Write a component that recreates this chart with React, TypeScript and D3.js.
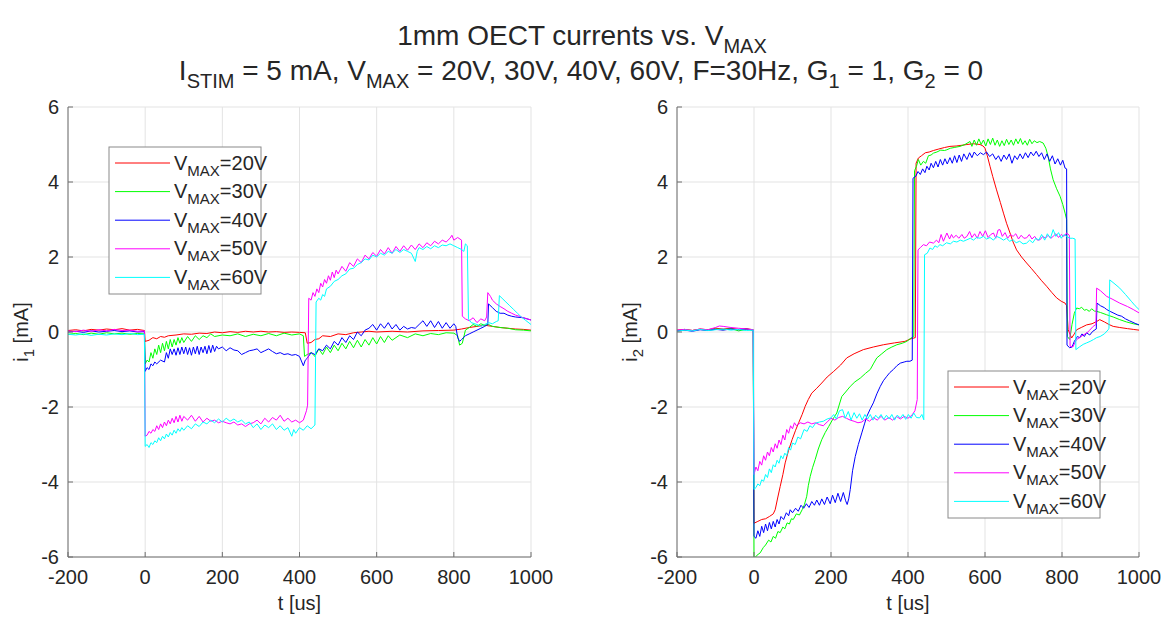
import React from "react";
import * as d3 from "d3";

type Pt = [number, number];

const T_TICKS = [-200, 0, 200, 400, 600, 800, 1000];
const I_TICKS = [-6, -4, -2, 0, 2, 4, 6];
const LEGEND_LABELS = ["=20V", "=30V", "=40V", "=50V", "=60V"];
const COLORS = ["#ff0000", "#00ff00", "#0000ff", "#ff00ff", "#00ffff"];

// ---- Left panel: i1 ----
const I1_20V: Pt[] = [[-200,0.04],[-180,0.06],[-160,0.03],[-140,0.07],[-120,0.05],[-100,0.08],[-80,0.06],[-60,0.09],[-40,0.05],[-20,0.07],[-2,0.04],[0,-0.25],[10,-0.22],[20,-0.15],[30,-0.18],[40,-0.12],[50,-0.14],[60,-0.1],[80,-0.08],[100,-0.05],[120,-0.06],[140,-0.03],[160,-0.04],[180,0.0],[200,-0.02],[220,0.01],[240,-0.01],[260,0.02],[280,0.0],[300,0.02],[320,0.0],[340,0.01],[360,-0.01],[380,0.0],[400,-0.01],[415,-0.02],[420,-0.3],[430,-0.28],[440,-0.2],[450,-0.18],[460,-0.1],[480,-0.12],[500,-0.05],[520,-0.07],[540,-0.02],[560,0.0],[580,0.02],[600,0.0],[640,0.02],[680,0.0],[720,0.03],[760,0.04],[800,0.05],[820,0.08],[840,0.12],[860,0.15],[880,0.18],[900,0.15],[920,0.12],[940,0.1],[960,0.08],[980,0.07],[1000,0.05]];
const I1_30V: Pt[] = [[-200,-0.06],[-180,-0.04],[-160,-0.07],[-140,-0.03],[-120,-0.06],[-100,-0.02],[-80,-0.05],[-60,-0.03],[-40,-0.06],[-20,-0.04],[-2,-0.05],[0,-0.85],[5,-0.75],[10,-0.8],[15,-0.55],[20,-0.7],[25,-0.45],[30,-0.6],[35,-0.35],[40,-0.55],[45,-0.3],[50,-0.5],[55,-0.25],[60,-0.45],[65,-0.2],[70,-0.4],[75,-0.2],[80,-0.35],[85,-0.15],[90,-0.3],[95,-0.15],[100,-0.28],[110,-0.12],[120,-0.25],[130,-0.1],[140,-0.2],[150,-0.1],[160,-0.15],[170,-0.05],[180,-0.12],[200,-0.08],[220,-0.1],[240,-0.05],[260,-0.12],[280,-0.06],[300,-0.1],[320,-0.04],[340,-0.1],[360,-0.03],[380,-0.08],[400,-0.05],[410,-0.1],[413,-0.65],[420,-0.6],[430,-0.55],[440,-0.65],[450,-0.45],[460,-0.6],[470,-0.4],[480,-0.55],[490,-0.35],[500,-0.5],[510,-0.3],[520,-0.45],[530,-0.25],[540,-0.42],[550,-0.22],[560,-0.4],[570,-0.2],[580,-0.35],[590,-0.15],[600,-0.32],[610,-0.12],[620,-0.28],[630,-0.1],[640,-0.22],[660,-0.08],[680,-0.15],[700,-0.05],[720,-0.1],[740,-0.04],[760,-0.07],[780,-0.02],[800,-0.03],[810,-0.1],[815,-0.35],[822,-0.3],[830,0.05],[840,0.12],[850,0.2],[860,0.15],[870,0.22],[880,0.18],[890,0.2],[900,0.15],[920,0.12],[940,0.1],[960,0.06],[980,0.05],[1000,0.03]];
const I1_40V: Pt[] = [[-200,0.0],[-180,0.02],[-160,-0.01],[-140,0.03],[-120,0.0],[-100,0.02],[-80,0.04],[-60,0.01],[-40,0.03],[-20,0.0],[-2,0.01],[0,-1.05],[5,-0.95],[10,-1.0],[15,-0.85],[20,-0.9],[25,-0.8],[30,-0.85],[40,-0.75],[50,-0.8],[55,-0.55],[60,-0.7],[65,-0.45],[70,-0.6],[75,-0.45],[80,-0.62],[85,-0.42],[90,-0.6],[95,-0.4],[100,-0.58],[105,-0.4],[110,-0.6],[115,-0.42],[120,-0.62],[125,-0.4],[130,-0.58],[135,-0.38],[140,-0.6],[145,-0.4],[150,-0.55],[155,-0.38],[160,-0.58],[165,-0.36],[170,-0.55],[175,-0.35],[180,-0.52],[185,-0.38],[190,-0.45],[200,-0.4],[210,-0.5],[220,-0.42],[230,-0.48],[240,-0.5],[250,-0.6],[260,-0.55],[270,-0.5],[280,-0.48],[290,-0.45],[300,-0.55],[310,-0.5],[320,-0.45],[330,-0.52],[340,-0.58],[350,-0.55],[360,-0.6],[370,-0.58],[380,-0.62],[390,-0.6],[400,-0.65],[410,-0.9],[415,-0.75],[420,-0.7],[430,-0.55],[440,-0.6],[450,-0.45],[460,-0.5],[470,-0.35],[480,-0.45],[490,-0.25],[500,-0.35],[510,-0.15],[520,-0.28],[530,-0.1],[540,-0.2],[550,0.0],[560,-0.1],[570,0.05],[580,0.1],[590,0.2],[600,0.05],[610,0.22],[620,0.1],[630,0.25],[640,0.08],[650,0.2],[660,0.05],[670,0.15],[680,0.08],[690,0.12],[700,0.1],[710,0.2],[720,0.3],[730,0.15],[740,0.3],[750,0.12],[760,0.28],[770,0.1],[780,0.25],[790,0.1],[800,0.22],[805,0.15],[810,-0.15],[815,-0.25],[820,-0.2],[830,-0.1],[840,-0.05],[850,0.0],[860,0.05],[870,0.1],[880,0.15],[888,0.2],[890,0.75],[900,0.65],[910,0.55],[920,0.5],[930,0.5],[940,0.45],[950,0.42],[960,0.4],[980,0.38],[1000,0.32]];
const I1_50V: Pt[] = [[-200,0.03],[-180,0.01],[-160,0.05],[-140,0.02],[-120,0.06],[-100,0.03],[-80,0.07],[-60,0.04],[-40,0.05],[-20,0.02],[-2,0.03],[0,-2.78],[5,-2.75],[10,-2.65],[15,-2.7],[20,-2.6],[25,-2.65],[30,-2.5],[35,-2.6],[40,-2.45],[45,-2.55],[50,-2.4],[55,-2.5],[60,-2.35],[65,-2.45],[70,-2.3],[75,-2.42],[80,-2.25],[85,-2.4],[90,-2.22],[95,-2.38],[100,-2.25],[110,-2.35],[120,-2.22],[130,-2.38],[140,-2.25],[150,-2.4],[160,-2.3],[170,-2.38],[180,-2.35],[190,-2.42],[200,-2.38],[210,-2.42],[220,-2.45],[230,-2.4],[240,-2.48],[250,-2.45],[260,-2.52],[270,-2.45],[280,-2.42],[290,-2.35],[300,-2.45],[310,-2.3],[320,-2.4],[330,-2.28],[340,-2.35],[350,-2.22],[360,-2.38],[370,-2.3],[380,-2.4],[390,-2.35],[400,-2.42],[410,-2.35],[418,-2.1],[421,-1.95],[424,0.9],[430,0.85],[435,1.05],[440,0.95],[445,1.15],[450,1.05],[455,1.3],[460,1.2],[465,1.4],[470,1.3],[475,1.5],[480,1.38],[485,1.6],[490,1.45],[495,1.65],[500,1.55],[510,1.75],[520,1.62],[530,1.85],[540,1.75],[550,1.95],[560,1.85],[570,2.05],[580,1.95],[590,2.12],[600,2.02],[610,2.2],[620,2.08],[630,2.25],[640,2.1],[650,2.28],[660,2.15],[670,2.3],[680,2.18],[690,2.32],[700,2.2],[710,2.35],[720,2.25],[730,2.38],[740,2.3],[750,2.42],[760,2.35],[770,2.45],[780,2.4],[790,2.5],[795,2.58],[800,2.45],[810,2.52],[820,2.45],[822,0.42],[830,0.35],[840,0.3],[850,0.38],[860,0.25],[870,0.35],[880,0.3],[885,0.4],[888,1.05],[895,0.95],[900,0.85],[910,0.75],[920,0.68],[930,0.62],[940,0.55],[950,0.5],[960,0.45],[970,0.42],[980,0.38],[990,0.35],[1000,0.32]];
const I1_60V: Pt[] = [[-200,-0.06],[-180,-0.08],[-160,-0.05],[-140,-0.09],[-120,-0.06],[-100,-0.08],[-80,-0.05],[-60,-0.07],[-40,-0.04],[-20,-0.07],[-2,-0.06],[0,-3.05],[5,-3.0],[10,-3.08],[15,-2.95],[20,-3.0],[25,-2.9],[30,-2.95],[35,-2.82],[40,-2.9],[45,-2.78],[50,-2.85],[55,-2.72],[60,-2.8],[65,-2.68],[70,-2.75],[75,-2.62],[80,-2.7],[85,-2.58],[90,-2.65],[95,-2.55],[100,-2.62],[110,-2.5],[120,-2.58],[130,-2.45],[140,-2.52],[150,-2.4],[160,-2.45],[170,-2.35],[180,-2.42],[190,-2.32],[200,-2.4],[210,-2.3],[220,-2.38],[230,-2.32],[240,-2.4],[250,-2.35],[260,-2.45],[270,-2.4],[280,-2.55],[290,-2.45],[300,-2.6],[310,-2.48],[320,-2.55],[330,-2.45],[340,-2.6],[350,-2.5],[360,-2.62],[370,-2.55],[380,-2.78],[385,-2.6],[390,-2.7],[400,-2.55],[410,-2.62],[420,-2.5],[430,-2.58],[440,-2.48],[443,0.8],[450,0.9],[455,0.85],[460,1.0],[465,0.95],[470,1.15],[480,1.22],[490,1.35],[500,1.4],[510,1.5],[520,1.55],[530,1.68],[540,1.7],[550,1.8],[560,1.85],[570,1.95],[580,1.92],[590,2.05],[600,2.0],[610,2.1],[620,2.05],[630,2.15],[640,2.1],[650,2.2],[660,2.12],[670,2.2],[680,2.15],[690,2.1],[700,1.88],[705,2.15],[710,2.25],[720,2.2],[730,2.28],[740,2.22],[750,2.3],[760,2.25],[770,2.32],[780,2.3],[790,2.35],[800,2.3],[810,2.25],[820,2.2],[826,2.15],[830,2.35],[835,2.3],[838,0.35],[845,0.25],[860,0.2],[870,0.15],[880,0.2],[890,0.25],[900,0.22],[910,0.28],[915,0.3],[918,0.97],[925,0.9],[935,0.8],[945,0.7],[955,0.6],[965,0.5],[975,0.4],[985,0.32],[1000,0.2]];

// ---- Right panel: i2 ----
const I2_20V: Pt[] = [[-200,0.05],[-180,0.07],[-160,0.04],[-140,0.08],[-120,0.06],[-100,0.1],[-80,0.08],[-60,0.1],[-40,0.07],[-20,0.09],[-2,0.06],[0,-5.1],[10,-5.05],[20,-5.0],[30,-4.98],[40,-4.92],[50,-4.85],[55,-4.74],[62,-4.4],[68,-4.12],[75,-3.8],[81,-3.49],[90,-3.15],[99,-2.87],[108,-2.62],[116,-2.42],[125,-2.2],[133,-1.98],[141,-1.8],[150,-1.63],[163,-1.5],[176,-1.36],[190,-1.2],[207,-1.05],[225,-0.88],[241,-0.69],[260,-0.58],[284,-0.47],[310,-0.4],[336,-0.34],[365,-0.29],[392,-0.25],[408,-0.18],[419,-0.15],[421,4.5],[427,4.64],[435,4.7],[445,4.78],[455,4.8],[466,4.84],[480,4.88],[495,4.92],[509,4.95],[525,4.96],[540,4.98],[553,5.0],[570,5.02],[587,5.0],[595,4.96],[600,4.9],[606,4.7],[613,4.42],[620,4.15],[630,3.79],[640,3.45],[648,3.17],[656,2.9],[665,2.64],[673,2.4],[682,2.19],[695,2.0],[708,1.84],[720,1.7],[734,1.53],[746,1.38],[760,1.22],[773,1.06],[786,0.91],[798,0.82],[808,0.77],[812,0.7],[816,0.06],[825,-0.16],[832,-0.05],[838,0.06],[850,0.12],[864,0.19],[878,0.22],[890,0.28],[898,0.33],[910,0.27],[922,0.2],[933,0.15],[950,0.12],[970,0.09],[985,0.07],[1000,0.05]];
const I2_30V: Pt[] = [[-200,0.03],[-180,0.06],[-160,0.04],[-140,0.07],[-120,0.05],[-100,0.08],[-80,0.06],[-60,0.09],[-40,0.03],[-20,0.07],[-2,0.05],[0,-6.05],[8,-5.95],[16,-5.89],[24,-5.75],[30,-5.68],[38,-5.55],[44,-5.6],[50,-5.45],[56,-5.5],[62,-5.32],[68,-5.35],[75,-5.2],[80,-5.25],[86,-5.09],[92,-5.12],[97,-4.98],[102,-5.0],[110,-4.85],[118,-4.88],[125,-4.74],[131,-4.6],[137,-4.38],[141,-4.1],[146,-3.85],[152,-3.62],[159,-3.4],[167,-3.12],[176,-2.87],[185,-2.68],[194,-2.52],[205,-2.32],[215,-2.16],[222,-1.92],[228,-1.72],[238,-1.6],[250,-1.45],[262,-1.33],[276,-1.23],[290,-1.1],[302,-1.0],[310,-0.85],[319,-0.69],[332,-0.58],[345,-0.47],[358,-0.4],[371,-0.34],[385,-0.3],[397,-0.25],[405,-0.18],[415,-0.12],[417,4.3],[422,4.42],[427,4.6],[433,4.45],[440,4.55],[446,4.5],[453,4.7],[460,4.72],[466,4.77],[475,4.8],[485,4.85],[495,4.84],[501,4.86],[510,4.9],[520,4.92],[535,4.95],[548,5.0],[561,5.08],[566,4.95],[572,5.12],[578,4.98],[584,5.15],[590,5.0],[596,5.12],[602,4.96],[608,5.15],[614,5.0],[620,5.17],[626,4.98],[632,5.12],[638,4.95],[644,5.1],[650,4.97],[656,5.14],[662,5.0],[668,5.12],[674,4.98],[680,5.15],[686,5.02],[692,5.16],[698,5.0],[704,5.1],[710,4.98],[716,5.14],[722,5.02],[728,5.1],[735,5.05],[742,5.08],[751,5.04],[758,4.9],[764,4.68],[770,4.35],[777,4.06],[786,3.82],[795,3.62],[802,3.4],[808,3.17],[812,3.0],[814,-0.12],[820,-0.2],[826,0.2],[832,0.5],[838,0.64],[845,0.62],[851,0.66],[858,0.58],[864,0.6],[871,0.55],[877,0.62],[884,0.56],[890,0.55],[900,0.52],[916,0.46],[933,0.4],[950,0.33],[967,0.27],[985,0.22],[1000,0.19]];
const I2_40V: Pt[] = [[-200,0.03],[-180,0.05],[-160,0.02],[-140,0.06],[-120,0.04],[-100,0.07],[-80,0.05],[-60,0.08],[-40,0.06],[-20,0.08],[-2,0.05],[0,-5.45],[5,-5.5],[10,-5.3],[15,-5.45],[20,-5.18],[25,-5.35],[30,-5.12],[35,-5.3],[40,-5.08],[45,-5.25],[50,-5.05],[55,-5.2],[60,-5.0],[65,-5.12],[70,-4.92],[77,-5.0],[84,-4.82],[90,-4.9],[94,-4.74],[100,-4.82],[108,-4.7],[115,-4.78],[122,-4.62],[129,-4.7],[136,-4.58],[143,-4.68],[150,-4.52],[157,-4.62],[163,-4.48],[170,-4.62],[176,-4.45],[183,-4.6],[190,-4.4],[198,-4.58],[204,-4.35],[211,-4.55],[218,-4.3],[225,-4.52],[232,-4.28],[238,-4.5],[242,-4.6],[246,-4.45],[250,-4.2],[256,-3.7],[263,-3.32],[271,-3.0],[280,-2.69],[287,-2.45],[293,-2.25],[302,-2.05],[310,-1.89],[319,-1.65],[328,-1.45],[336,-1.3],[345,-1.18],[353,-1.08],[362,-1.0],[371,-0.9],[380,-0.83],[390,-0.8],[397,-0.78],[405,-0.78],[411,-0.75],[413,4.1],[420,4.15],[426,4.28],[432,4.2],[438,4.35],[444,4.25],[449,4.42],[455,4.32],[460,4.5],[466,4.38],[472,4.55],[478,4.4],[484,4.6],[490,4.45],[496,4.62],[502,4.48],[509,4.65],[515,4.5],[521,4.7],[527,4.52],[533,4.72],[539,4.55],[545,4.75],[553,4.6],[560,4.78],[566,4.65],[572,4.8],[580,4.7],[588,4.78],[596,4.73],[604,4.8],[612,4.68],[620,4.75],[628,4.6],[635,4.7],[642,4.55],[649,4.72],[656,4.6],[663,4.75],[670,4.5],[677,4.7],[684,4.6],[691,4.75],[698,4.62],[705,4.78],[712,4.65],[719,4.8],[726,4.7],[733,4.82],[740,4.68],[747,4.78],[754,4.6],[761,4.75],[768,4.55],[775,4.7],[782,4.48],[789,4.62],[796,4.45],[802,4.58],[808,4.37],[812,4.35],[813,-0.35],[820,-0.42],[826,-0.4],[832,-0.25],[840,-0.12],[846,-0.15],[852,-0.05],[858,-0.12],[864,-0.02],[872,-0.08],[880,0.02],[886,0.06],[889,0.08],[891,0.77],[900,0.7],[910,0.65],[916,0.6],[925,0.55],[935,0.5],[945,0.45],[955,0.42],[965,0.35],[975,0.3],[990,0.23],[1000,0.19]];
const I2_50V: Pt[] = [[-200,0.05],[-180,0.07],[-160,0.04],[-140,0.08],[-120,0.06],[-100,0.12],[-90,0.16],[-80,0.15],[-60,0.12],[-40,0.1],[-20,0.08],[-2,0.06],[0,-3.8],[5,-3.6],[10,-3.7],[15,-3.45],[20,-3.55],[25,-3.3],[30,-3.42],[35,-3.2],[40,-3.3],[45,-3.08],[50,-3.2],[55,-2.98],[60,-3.1],[65,-2.88],[70,-3.0],[75,-2.75],[80,-2.88],[85,-2.6],[90,-2.7],[95,-2.5],[100,-2.58],[105,-2.42],[110,-2.5],[120,-2.42],[130,-2.45],[140,-2.4],[150,-2.45],[160,-2.42],[170,-2.47],[180,-2.5],[190,-2.4],[200,-2.3],[210,-2.35],[220,-2.28],[230,-2.25],[240,-2.3],[250,-2.35],[260,-2.38],[270,-2.42],[280,-2.4],[290,-2.32],[300,-2.38],[310,-2.28],[320,-2.35],[330,-2.25],[340,-2.35],[350,-2.28],[360,-2.35],[370,-2.25],[380,-2.32],[390,-2.25],[400,-2.3],[410,-2.22],[418,-2.1],[424,-1.8],[426,2.19],[432,2.25],[440,2.33],[448,2.3],[456,2.4],[466,2.37],[474,2.45],[480,2.38],[486,2.6],[492,2.42],[501,2.64],[508,2.48],[513,2.6],[518,2.51],[525,2.58],[532,2.5],[540,2.6],[546,2.5],[553,2.55],[560,2.68],[566,2.52],[573,2.62],[580,2.5],[587,2.68],[594,2.55],[601,2.7],[608,2.52],[615,2.6],[622,2.64],[628,2.5],[634,2.72],[639,2.73],[645,2.55],[652,2.65],[659,2.5],[666,2.6],[673,2.55],[680,2.62],[687,2.48],[694,2.58],[701,2.5],[708,2.51],[715,2.6],[722,2.48],[729,2.55],[736,2.45],[743,2.46],[750,2.55],[757,2.5],[764,2.58],[771,2.5],[777,2.55],[784,2.62],[791,2.52],[798,2.6],[805,2.55],[812,2.64],[819,2.58],[821,-0.38],[828,-0.4],[838,-0.2],[846,-0.15],[855,-0.08],[864,-0.03],[872,0.05],[881,0.15],[888,0.2],[890,1.17],[900,1.1],[916,0.95],[930,0.88],[950,0.77],[970,0.68],[985,0.6],[1000,0.51]];
const I2_60V: Pt[] = [[-200,0.02],[-180,0.05],[-160,0.03],[-140,0.07],[-120,0.04],[-100,0.06],[-80,0.08],[-60,0.05],[-40,0.07],[-20,0.04],[-2,0.05],[0,-4.2],[5,-4.15],[10,-4.05],[15,-4.1],[20,-3.94],[25,-3.98],[30,-3.8],[35,-3.88],[40,-3.65],[45,-3.75],[50,-3.54],[55,-3.6],[60,-3.42],[65,-3.5],[70,-3.3],[75,-3.38],[80,-3.23],[85,-3.3],[90,-3.08],[95,-3.15],[100,-2.96],[107,-3.0],[114,-2.8],[121,-2.85],[130,-2.6],[138,-2.65],[145,-2.5],[152,-2.55],[160,-2.43],[170,-2.4],[180,-2.38],[190,-2.32],[200,-2.29],[207,-2.2],[214,-2.32],[222,-2.1],[230,-2.07],[237,-2.3],[245,-2.12],[252,-2.35],[260,-2.15],[267,-2.3],[274,-2.18],[281,-2.35],[288,-2.2],[295,-2.32],[302,-2.2],[309,-2.35],[316,-2.22],[323,-2.3],[330,-2.2],[337,-2.33],[344,-2.22],[351,-2.32],[358,-2.2],[365,-2.35],[372,-2.22],[380,-2.29],[387,-2.2],[394,-2.33],[401,-2.2],[408,-2.3],[415,-2.16],[422,-2.28],[430,-2.29],[436,-2.2],[441,-2.34],[443,2.06],[450,2.1],[457,2.24],[464,2.2],[470,2.3],[476,2.26],[483,2.33],[490,2.3],[500,2.38],[510,2.35],[518,2.42],[527,2.4],[536,2.45],[544,2.42],[553,2.46],[562,2.5],[570,2.45],[578,2.52],[587,2.5],[596,2.55],[604,2.48],[613,2.52],[622,2.45],[630,2.55],[639,2.51],[648,2.45],[656,2.5],[664,2.42],[673,2.46],[681,2.38],[690,2.42],[699,2.35],[708,2.37],[716,2.45],[724,2.38],[732,2.5],[740,2.45],[747,2.6],[755,2.45],[762,2.62],[770,2.5],[777,2.73],[784,2.55],[791,2.65],[798,2.5],[805,2.6],[812,2.55],[820,2.5],[828,2.5],[834,2.48],[836,-0.47],[845,-0.4],[855,-0.33],[864,-0.29],[873,-0.25],[882,-0.2],[890,-0.15],[899,-0.12],[910,-0.05],[920,0.06],[922,0.1],[924,1.39],[935,1.3],[950,1.17],[965,1.0],[980,0.82],[990,0.7],[1000,0.6]];

const LEFT_SERIES = [I1_20V, I1_30V, I1_40V, I1_50V, I1_60V];
const RIGHT_SERIES = [I2_20V, I2_30V, I2_40V, I2_50V, I2_60V];

const FONT = "'Liberation Sans', Arial, Helvetica, sans-serif";
const TXT = "#262626";

const TOP = 107;
const BOTTOM = 557;

function Legend({ x, y }: { x: number; y: number }) {
  const w = 152;
  const h = 147;
  return (
    <g transform={`translate(${x},${y})`}>
      <rect x={0} y={0} width={w} height={h} fill="#fff" stroke="#8a8a8a" strokeWidth={1} />
      {LEGEND_LABELS.map((lab, i) => {
        const ly = 16 + i * 28.6;
        return (
          <g key={lab}>
            <line x1={6} x2={61} y1={ly} y2={ly} stroke={COLORS[i]} strokeWidth={1} />
            <text x={65} y={ly + 6.5} fontFamily={FONT} fontSize={20} fill={TXT}>
              V
              <tspan fontSize={15} dy={6}>MAX</tspan>
              <tspan dy={-6}>{lab}</tspan>
            </text>
          </g>
        );
      })}
    </g>
  );
}

function Panel({ left, right, series, sub, id, legend }: { left: number; right: number; series: Pt[][]; sub: string; id: string; legend: [number, number] }) {
  const x = d3.scaleLinear().domain([-200, 1000]).range([left, right]);
  const y = d3.scaleLinear().domain([-6, 6]).range([BOTTOM, TOP]);
  const line = d3.line<Pt>().x((d) => x(d[0])).y((d) => y(d[1]));
  return (
    <g>
      <defs>
        <clipPath id={id}>
          <rect x={left} y={TOP} width={right - left} height={BOTTOM - TOP} />
        </clipPath>
      </defs>
      {T_TICKS.map((t) => (
        <line key={"gx" + t} x1={x(t)} x2={x(t)} y1={TOP} y2={BOTTOM} stroke="#e3e3e3" strokeWidth={1} />
      ))}
      {I_TICKS.map((v) => (
        <line key={"gy" + v} x1={left} x2={right} y1={y(v)} y2={y(v)} stroke="#e3e3e3" strokeWidth={1} />
      ))}
      <g clipPath={`url(#${id})`}>
        {series.map((s, i) => (
          <path key={i} d={line(s) || ""} fill="none" stroke={COLORS[i]} strokeWidth={1} strokeLinejoin="round" />
        ))}
      </g>
      <line x1={left} x2={right} y1={BOTTOM} y2={BOTTOM} stroke="#6e6e6e" strokeWidth={1} />
      <line x1={left} x2={left} y1={TOP} y2={BOTTOM} stroke="#6e6e6e" strokeWidth={1} />
      {T_TICKS.map((t) => (
        <g key={"tx" + t}>
          <line x1={x(t)} x2={x(t)} y1={BOTTOM} y2={BOTTOM - 5} stroke="#6e6e6e" strokeWidth={1} />
          <text x={x(t)} y={584} textAnchor="middle" fontFamily={FONT} fontSize={20} fill={TXT}>{t}</text>
        </g>
      ))}
      {I_TICKS.map((v) => (
        <g key={"ty" + v}>
          <line x1={left} x2={left + 5} y1={y(v)} y2={y(v)} stroke="#6e6e6e" strokeWidth={1} />
          <text x={left - 9} y={y(v) + 7} textAnchor="end" fontFamily={FONT} fontSize={20} fill={TXT}>{v}</text>
        </g>
      ))}
      <text x={(left + right) / 2} y={610} textAnchor="middle" fontFamily={FONT} fontSize={20} fill={TXT}>t [us]</text>
      <text transform={`translate(${left - 40},${(TOP + BOTTOM) / 2}) rotate(-90)`} textAnchor="middle" fontFamily={FONT} fontSize={20} fill={TXT}>
        i<tspan fontSize={15} dy={6}>{sub}</tspan><tspan dy={-6}> [mA]</tspan>
      </text>
      <Legend x={legend[0]} y={legend[1]} />
    </g>
  );
}

export default function App() {
  return (
    <svg width={1164} height={617} style={{ position: "absolute", left: 0, top: 0, background: "#fff" }}>
      <rect x={0} y={0} width={1164} height={617} fill="#fff" />
      <text x={582} y={45} textAnchor="middle" fontFamily={FONT} fontSize={28} fill={TXT}>
        1mm OECT currents vs. V<tspan fontSize={20} dy={8}>MAX</tspan>
      </text>
      <text x={581} y={80} textAnchor="middle" fontFamily={FONT} fontSize={28} fill={TXT}>
        I<tspan fontSize={20} dy={8}>STIM</tspan>
        <tspan dy={-8}> = 5 mA, V</tspan>
        <tspan fontSize={20} dy={8}>MAX</tspan>
        <tspan dy={-8}> = 20V, 30V, 40V, 60V, F=30Hz, G</tspan>
        <tspan fontSize={20} dy={8}>1</tspan>
        <tspan dy={-8}> = 1, G</tspan>
        <tspan fontSize={20} dy={8}>2</tspan>
        <tspan dy={-8}> = 0</tspan>
      </text>
      <Panel left={68} right={531} series={LEFT_SERIES} sub="1" id="clipL" legend={[109, 147]} />
      <Panel left={677} right={1139} series={RIGHT_SERIES} sub="2" id="clipR" legend={[948, 371]} />
    </svg>
  );
}
